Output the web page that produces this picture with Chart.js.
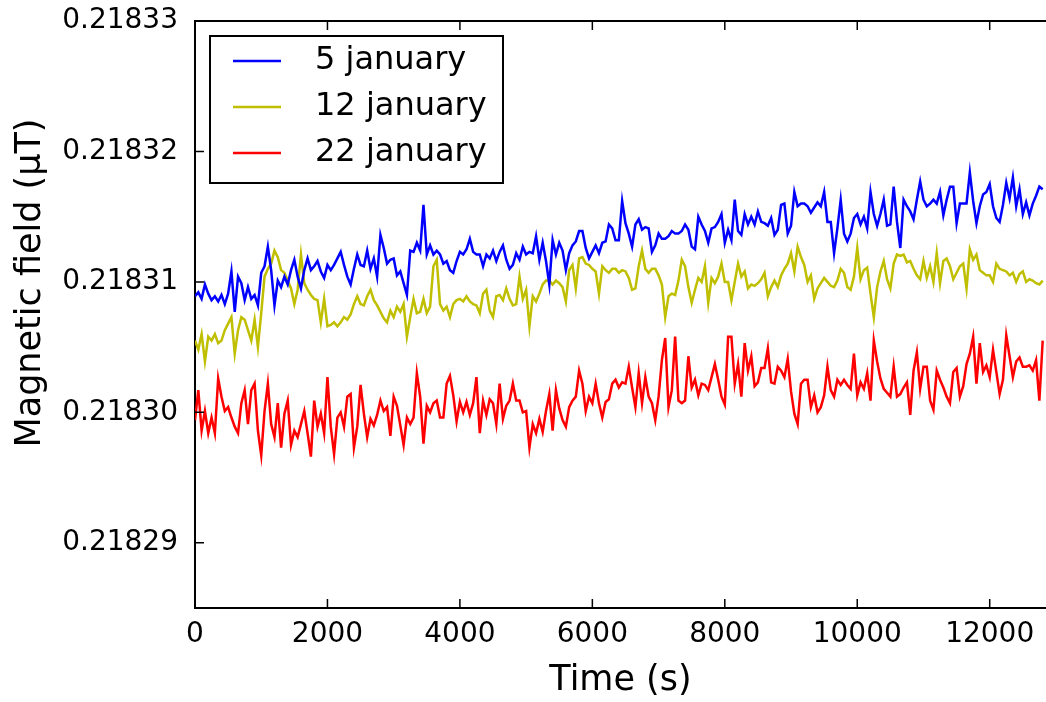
<!DOCTYPE html>
<html>
<head>
<meta charset="utf-8">
<script src="https://cdn.jsdelivr.net/npm/chart.js@4.4.1/dist/chart.umd.min.js"></script>
<style>
  body { margin: 0; background: #fff; }
  #wrap { width: 1046px; height: 702px; }
</style>
</head>
<body>
<div id="wrap"><canvas id="canvasPanel" width="1046" height="702"></canvas></div>
<script>
// time axis (s)
var TIMES = [0, 50, 100, 150, 200, 250, 300, 350, 400, 450, 500, 550, 600, 650, 700, 750, 800, 850, 900, 950,
  1000, 1050, 1100, 1150, 1200, 1250, 1300, 1350, 1400, 1450, 1500, 1550, 1600, 1650, 1700, 1750, 1800, 1850, 1900, 1950,
  2000, 2050, 2100, 2150, 2200, 2250, 2300, 2350, 2400, 2450, 2500, 2550, 2600, 2650, 2700, 2750, 2800, 2850, 2900, 2950,
  3000, 3050, 3100, 3150, 3200, 3250, 3300, 3350, 3400, 3450, 3500, 3550, 3600, 3650, 3700, 3750, 3800, 3850, 3900, 3950,
  4000, 4050, 4100, 4150, 4200, 4250, 4300, 4350, 4400, 4450, 4500, 4550, 4600, 4650, 4700, 4750, 4800, 4850, 4900, 4950,
  5000, 5050, 5100, 5150, 5200, 5250, 5300, 5350, 5400, 5450, 5500, 5550, 5600, 5650, 5700, 5750, 5800, 5850, 5900, 5950,
  6000, 6050, 6100, 6150, 6200, 6250, 6300, 6350, 6400, 6450, 6500, 6550, 6600, 6650, 6700, 6750, 6800, 6850, 6900, 6950,
  7000, 7050, 7100, 7150, 7200, 7250, 7300, 7350, 7400, 7450, 7500, 7550, 7600, 7650, 7700, 7750, 7800, 7850, 7900, 7950,
  8000, 8050, 8100, 8150, 8200, 8250, 8300, 8350, 8400, 8450, 8500, 8550, 8600, 8650, 8700, 8750, 8800, 8850, 8900, 8950,
  9000, 9050, 9100, 9150, 9200, 9250, 9300, 9350, 9400, 9450, 9500, 9550, 9600, 9650, 9700, 9750, 9800, 9850, 9900, 9950,
  10000, 10050, 10100, 10150, 10200, 10250, 10300, 10350, 10400, 10450, 10500, 10550, 10600, 10650, 10700, 10750, 10800, 10850, 10900, 10950,
  11000, 11050, 11100, 11150, 11200, 11250, 11300, 11350, 11400, 11450, 11500, 11550, 11600, 11650, 11700, 11750, 11800, 11850, 11900, 11950,
  12000, 12050, 12100, 12150, 12200, 12250, 12300, 12350, 12400, 12450, 12500, 12550, 12600, 12650, 12700, 12750, 12800];

// magnetic field (uT)
var JAN5 = [0.2183089, 0.2183092, 0.2183087, 0.2183098, 0.2183091, 0.2183086, 0.2183089, 0.2183085, 0.2183090, 0.2183083, 0.2183091, 0.2183108, 0.2183077, 0.2183104, 0.2183099, 0.2183086, 0.2183096, 0.2183087, 0.2183090, 0.2183082, 0.2183107, 0.2183112, 0.2183127, 0.2183109, 0.2183082, 0.2183101, 0.2183096, 0.2183104, 0.2183098, 0.2183109, 0.2183117, 0.2183104, 0.2183095, 0.2183109, 0.2183118, 0.2183109, 0.2183112,
  0.2183116, 0.2183108, 0.2183103, 0.2183113, 0.2183109, 0.2183113, 0.2183118, 0.2183123, 0.2183113, 0.2183104, 0.2183098, 0.2183110, 0.2183121, 0.2183113, 0.2183112, 0.2183124, 0.2183110, 0.2183118, 0.2183104, 0.2183136, 0.2183126, 0.2183114, 0.2183117, 0.2183118, 0.2183105, 0.2183108, 0.2183099, 0.2183090, 0.2183124, 0.2183123, 0.2183130, 0.2183124, 0.2183159, 0.2183121, 0.2183128, 0.2183121, 0.2183124,
  0.2183121, 0.2183114, 0.2183116, 0.2183109, 0.2183107, 0.2183116, 0.2183123, 0.2183121, 0.2183125, 0.2183133, 0.2183123, 0.2183121, 0.2183121, 0.2183112, 0.2183121, 0.2183118, 0.2183124, 0.2183116, 0.2183123, 0.2183128, 0.2183117, 0.2183110, 0.2183113, 0.2183122, 0.2183117, 0.2183127, 0.2183121, 0.2183123, 0.2183122, 0.2183135, 0.2183117, 0.2183130, 0.2183116, 0.2183098, 0.2183132, 0.2183121, 0.2183130,
  0.2183124, 0.2183109, 0.2183122, 0.2183128, 0.2183131, 0.2183139, 0.2183139, 0.2183126, 0.2183118, 0.2183123, 0.2183128, 0.2183122, 0.2183130, 0.2183131, 0.2183144, 0.2183141, 0.2183132, 0.2183132, 0.2183162, 0.2183145, 0.2183137, 0.2183127, 0.2183144, 0.2183148, 0.2183140, 0.2183142, 0.2183141, 0.2183123, 0.2183128, 0.2183137, 0.2183133, 0.2183133, 0.2183135, 0.2183139, 0.2183137, 0.2183137, 0.2183139,
  0.2183144, 0.2183140, 0.2183127, 0.2183125, 0.2183150, 0.2183144, 0.2183139, 0.2183130, 0.2183141, 0.2183142, 0.2183146, 0.2183152, 0.2183130, 0.2183140, 0.2183132, 0.2183163, 0.2183139, 0.2183136, 0.2183152, 0.2183144, 0.2183150, 0.2183144, 0.2183154, 0.2183146, 0.2183145, 0.2183143, 0.2183149, 0.2183136, 0.2183140, 0.2183159, 0.2183160, 0.2183137, 0.2183143, 0.2183169, 0.2183158, 0.2183160, 0.2183160,
  0.2183158, 0.2183153, 0.2183157, 0.2183161, 0.2183158, 0.2183169, 0.2183146, 0.2183146, 0.2183122, 0.2183141, 0.2183163, 0.2183137, 0.2183131, 0.2183137, 0.2183149, 0.2183152, 0.2183144, 0.2183150, 0.2183141, 0.2183169, 0.2183152, 0.2183143, 0.2183152, 0.2183163, 0.2183143, 0.2183144, 0.2183173, 0.2183146, 0.2183126, 0.2183163, 0.2183158, 0.2183154, 0.2183148, 0.2183163, 0.2183177, 0.2183163,
  0.2183158, 0.2183160, 0.2183163, 0.2183160, 0.2183169, 0.2183151, 0.2183163, 0.2183173, 0.2183173, 0.2183145, 0.2183160, 0.2183160, 0.2183160, 0.2183184, 0.2183162, 0.2183145, 0.2183158, 0.2183167, 0.2183169, 0.2183175, 0.2183158, 0.2183149, 0.2183146, 0.2183159, 0.2183176, 0.2183164, 0.2183180, 0.2183158, 0.2183171, 0.2183152, 0.2183161, 0.2183151, 0.2183160, 0.2183166, 0.2183173, 0.2183171];

var JAN12 = [0.2183055, 0.2183048, 0.2183060, 0.2183039, 0.2183058, 0.2183055, 0.2183060, 0.2183053, 0.2183055, 0.2183063, 0.2183068, 0.2183073, 0.2183045, 0.2183063, 0.2183073, 0.2183071, 0.2183063, 0.2183055, 0.2183071, 0.2183050, 0.2183076, 0.2183104, 0.2183110, 0.2183114, 0.2183124, 0.2183119, 0.2183109, 0.2183107, 0.2183101, 0.2183095, 0.2183083, 0.2183094, 0.2183121, 0.2183099, 0.2183094, 0.2183090, 0.2183087,
  0.2183086, 0.2183069, 0.2183087, 0.2183066, 0.2183067, 0.2183069, 0.2183066, 0.2183069, 0.2183073, 0.2183071, 0.2183075, 0.2183083, 0.2183089, 0.2183083, 0.2183082, 0.2183089, 0.2183094, 0.2183086, 0.2183082, 0.2183077, 0.2183072, 0.2183069, 0.2183078, 0.2183073, 0.2183081, 0.2183077, 0.2183083, 0.2183058, 0.2183073, 0.2183087, 0.2183076, 0.2183077, 0.2183087, 0.2183076, 0.2183081, 0.2183112, 0.2183117,
  0.2183083, 0.2183078, 0.2183081, 0.2183073, 0.2183083, 0.2183086, 0.2183087, 0.2183085, 0.2183089, 0.2183085, 0.2183083, 0.2183082, 0.2183076, 0.2183091, 0.2183094, 0.2183078, 0.2183073, 0.2183089, 0.2183090, 0.2183086, 0.2183095, 0.2183087, 0.2183082, 0.2183083, 0.2183104, 0.2183087, 0.2183094, 0.2183066, 0.2183089, 0.2183085, 0.2183091, 0.2183098, 0.2183101, 0.2183101, 0.2183098, 0.2183101, 0.2183099,
  0.2183096, 0.2183085, 0.2183109, 0.2183113, 0.2183095, 0.2183118, 0.2183119, 0.2183114, 0.2183113, 0.2183110, 0.2183108, 0.2183091, 0.2183112, 0.2183109, 0.2183107, 0.2183110, 0.2183110, 0.2183107, 0.2183109, 0.2183108, 0.2183103, 0.2183094, 0.2183095, 0.2183112, 0.2183124, 0.2183110, 0.2183107, 0.2183110, 0.2183110, 0.2183105, 0.2183098, 0.2183073, 0.2183089, 0.2183091, 0.2183090, 0.2183101, 0.2183117,
  0.2183112, 0.2183096, 0.2183084, 0.2183094, 0.2183103, 0.2183100, 0.2183112, 0.2183084, 0.2183103, 0.2183099, 0.2183104, 0.2183114, 0.2183100, 0.2183100, 0.2183086, 0.2183100, 0.2183114, 0.2183104, 0.2183108, 0.2183095, 0.2183098, 0.2183097, 0.2183099, 0.2183102, 0.2183107, 0.2183089, 0.2183096, 0.2183101, 0.2183096, 0.2183105, 0.2183110, 0.2183114, 0.2183122, 0.2183108, 0.2183127, 0.2183119, 0.2183113,
  0.2183100, 0.2183105, 0.2183087, 0.2183095, 0.2183099, 0.2183103, 0.2183100, 0.2183097, 0.2183096, 0.2183101, 0.2183110, 0.2183107, 0.2183096, 0.2183094, 0.2183104, 0.2183126, 0.2183102, 0.2183109, 0.2183111, 0.2183091, 0.2183073, 0.2183096, 0.2183108, 0.2183116, 0.2183102, 0.2183095, 0.2183114, 0.2183121, 0.2183120, 0.2183121, 0.2183115, 0.2183116, 0.2183110, 0.2183105, 0.2183102, 0.2183116,
  0.2183103, 0.2183112, 0.2183100, 0.2183122, 0.2183099, 0.2183116, 0.2183118, 0.2183112, 0.2183102, 0.2183107, 0.2183112, 0.2183114, 0.2183095, 0.2183125, 0.2183117, 0.2183121, 0.2183109, 0.2183107, 0.2183105, 0.2183105, 0.2183100, 0.2183114, 0.2183110, 0.2183109, 0.2183108, 0.2183105, 0.2183107, 0.2183100, 0.2183106, 0.2183108, 0.2183100, 0.2183102, 0.2183101, 0.2183099, 0.2183098, 0.2183101];

var JAN22 = [0.2182994, 0.2183017, 0.2182986, 0.2183001, 0.2182984, 0.2182996, 0.2182984, 0.2183026, 0.2183012, 0.2183001, 0.2183004, 0.2182996, 0.2182989, 0.2182984, 0.2183007, 0.2183017, 0.2182991, 0.2183017, 0.2183022, 0.2182986, 0.2182967, 0.2183001, 0.2183022, 0.2182991, 0.2182981, 0.2183007, 0.2182973, 0.2182999, 0.2183009, 0.2182975, 0.2182986, 0.2182981, 0.2182991, 0.2183001, 0.2182984, 0.2182966, 0.2183009,
  0.2182989, 0.2182999, 0.2182984, 0.2183027, 0.2182989, 0.2182968, 0.2182996, 0.2183000, 0.2182989, 0.2183012, 0.2183014, 0.2182973, 0.2182989, 0.2183021, 0.2182999, 0.2182981, 0.2182995, 0.2182990, 0.2182998, 0.2183009, 0.2183001, 0.2183004, 0.2182982, 0.2183012, 0.2183005, 0.2182990, 0.2182975, 0.2182996, 0.2182991, 0.2182996, 0.2183030, 0.2183012, 0.2182976, 0.2183005, 0.2183000, 0.2183007, 0.2183009,
  0.2182996, 0.2182996, 0.2183022, 0.2183028, 0.2183013, 0.2182993, 0.2183008, 0.2183000, 0.2183008, 0.2182998, 0.2183007, 0.2183027, 0.2182984, 0.2183009, 0.2182998, 0.2183010, 0.2183007, 0.2182991, 0.2183022, 0.2182995, 0.2183005, 0.2183009, 0.2183022, 0.2183009, 0.2183009, 0.2183000, 0.2183001, 0.2182973, 0.2182991, 0.2182984, 0.2182995, 0.2182985, 0.2183001, 0.2183014, 0.2182986, 0.2183017, 0.2183003,
  0.2182994, 0.2182989, 0.2183004, 0.2183009, 0.2183012, 0.2183032, 0.2183022, 0.2183001, 0.2183012, 0.2183007, 0.2183022, 0.2183007, 0.2182996, 0.2183008, 0.2183010, 0.2183022, 0.2183025, 0.2183019, 0.2183023, 0.2183022, 0.2183035, 0.2183019, 0.2183004, 0.2183030, 0.2183007, 0.2183027, 0.2183012, 0.2183007, 0.2182994, 0.2183012, 0.2183040, 0.2183057, 0.2183004, 0.2183017, 0.2183058, 0.2183009, 0.2183007,
  0.2183009, 0.2183043, 0.2183019, 0.2183025, 0.2183013, 0.2183022, 0.2183021, 0.2183017, 0.2183027, 0.2183037, 0.2183025, 0.2183012, 0.2183006, 0.2183058, 0.2183058, 0.2183022, 0.2183037, 0.2183012, 0.2183053, 0.2183032, 0.2183043, 0.2183020, 0.2183023, 0.2183034, 0.2183034, 0.2183049, 0.2183023, 0.2183022, 0.2183035, 0.2183032, 0.2183027, 0.2183041, 0.2183016, 0.2182999, 0.2182991, 0.2183022, 0.2183025,
  0.2183025, 0.2183004, 0.2183013, 0.2183000, 0.2183004, 0.2183013, 0.2183035, 0.2183017, 0.2183012, 0.2183025, 0.2183021, 0.2183025, 0.2183021, 0.2183018, 0.2183045, 0.2183013, 0.2183023, 0.2183018, 0.2183030, 0.2183009, 0.2183055, 0.2183039, 0.2183026, 0.2183018, 0.2183015, 0.2183012, 0.2183035, 0.2183012, 0.2183014, 0.2183019, 0.2183023, 0.2182998, 0.2183032, 0.2183046, 0.2183018, 0.2183035,
  0.2183035, 0.2183009, 0.2183002, 0.2183032, 0.2183025, 0.2183019, 0.2183012, 0.2183007, 0.2183031, 0.2183034, 0.2183012, 0.2183020, 0.2183037, 0.2183045, 0.2183058, 0.2183022, 0.2183053, 0.2183031, 0.2183036, 0.2183027, 0.2183048, 0.2183031, 0.2183014, 0.2183025, 0.2183059, 0.2183043, 0.2183027, 0.2183039, 0.2183042, 0.2183035, 0.2183035, 0.2183036, 0.2183032, 0.2183040, 0.2183009, 0.2183055];

var X_TICKS = [0, 2000, 4000, 6000, 8000, 10000, 12000];
var Y_TICKS = [0.21829, 0.21830, 0.21831, 0.21832, 0.21833];

var FONT = 'DejaVu Sans';

function points(values) {
  return TIMES.map(function(t, i) { return { x: t, y: values[i] }; });
}

var config = {
  type: 'line',
  data: {
    datasets: [{
      label: '5 january',
      borderColor: '#0000ff',
      backgroundColor: '#0000ff',
      data: points(JAN5)
    }, {
      label: '12 january',
      borderColor: '#bfbf00',
      backgroundColor: '#bfbf00',
      data: points(JAN12)
    }, {
      label: '22 january',
      borderColor: '#ff0000',
      backgroundColor: '#ff0000',
      data: points(JAN22)
    }]
  },
  options: {
    responsive: false,
    animation: false,
    layout: { padding: { top: 21, right: 0, left: 0, bottom: 0 } },
    elements: {
      line: { borderWidth: 2.5, tension: 0, fill: false },
      point: { radius: 0 }
    },
    plugins: {
      legend: { display: false },
      tooltip: { enabled: false }
    },
    scales: {
      x: {
        type: 'linear',
        min: 0,
        max: 12850,
        afterFit: function(s) { s.height = 94; s.paddingLeft = 0; s.paddingRight = 0; },
        afterBuildTicks: function(s) { s.ticks = X_TICKS.map(function(v) { return { value: v }; }); },
        grid: { display: false, drawTicks: false },
        border: { display: true, color: '#000', width: 2 },
        ticks: {
          padding: 10,
          maxRotation: 0,
          color: '#000',
          font: { family: FONT, size: 28 },
          callback: function(v) { return String(v); }
        },
        title: {
          display: true,
          text: 'Time (s)',
          color: '#000',
          font: { family: FONT, size: 35 },
          padding: { top: 0, bottom: 0 }
        }
      },
      y: {
        type: 'linear',
        min: 0.218285,
        max: 0.21833,
        afterFit: function(s) { s.width = 195; s.paddingTop = 0; s.paddingBottom = 0; },
        afterBuildTicks: function(s) { s.ticks = Y_TICKS.map(function(v) { return { value: v }; }); },
        grid: { display: false, drawTicks: false },
        border: { display: true, color: '#000', width: 2 },
        ticks: {
          padding: 17,
          color: '#000',
          font: { family: FONT, size: 28 },
          callback: function(v) { return Number(v).toFixed(5); }
        }
      }
    }
  },
  plugins: [{
    id: 'frameAndLegend',
    afterDraw: function(chart) {
      var ctx = chart.ctx, a = chart.chartArea;
      var xs = chart.scales.x, ys = chart.scales.y;
      ctx.save();
      // inward tick marks
      ctx.strokeStyle = '#000';
      ctx.lineWidth = 1.5;
      ctx.beginPath();
      X_TICKS.forEach(function(v) {
        var px = xs.getPixelForValue(v);
        ctx.moveTo(px, a.bottom); ctx.lineTo(px, a.bottom - 9);
        ctx.moveTo(px, a.top); ctx.lineTo(px, a.top + 9);
      });
      Y_TICKS.forEach(function(v) {
        var py = ys.getPixelForValue(v);
        ctx.moveTo(a.left, py); ctx.lineTo(a.left + 9, py);
      });
      ctx.stroke();
      // top frame
      ctx.lineWidth = 2;
      ctx.beginPath();
      ctx.moveTo(a.left, a.top); ctx.lineTo(a.right, a.top);
      ctx.stroke();

      // y axis title
      ctx.fillStyle = '#000';
      ctx.font = '35px "' + FONT + '"';
      ctx.textAlign = 'center';
      ctx.textBaseline = 'middle';
      ctx.save();
      ctx.translate(31, 283);
      ctx.rotate(-Math.PI / 2);
      ctx.fillText('Magnetic field (\u03bcT)', 0, 0);
      ctx.restore();

      // legend box
      var bx = 210, by = 36, bw = 293, bh = 147;
      ctx.fillStyle = '#fff';
      ctx.fillRect(bx, by, bw, bh);
      ctx.strokeStyle = '#000';
      ctx.lineWidth = 2;
      ctx.strokeRect(bx, by, bw, bh);
      ctx.font = '32px "' + FONT + '"';
      ctx.textAlign = 'left';
      ctx.textBaseline = 'middle';
      chart.data.datasets.forEach(function(ds, i) {
        var ly = 61 + i * 46;
        ctx.strokeStyle = ds.borderColor;
        ctx.lineWidth = 2.5;
        ctx.beginPath();
        ctx.moveTo(233, ly); ctx.lineTo(281, ly);
        ctx.stroke();
        ctx.fillStyle = '#000';
        ctx.fillText(ds.label, 315, ly);
      });
      ctx.restore();
    }
  }]
};

window.onload = function() {
  var ctx = document.getElementById('canvasPanel').getContext('2d');
  window.myLine = new Chart(ctx, config);
};
</script>
</body>
</html>
